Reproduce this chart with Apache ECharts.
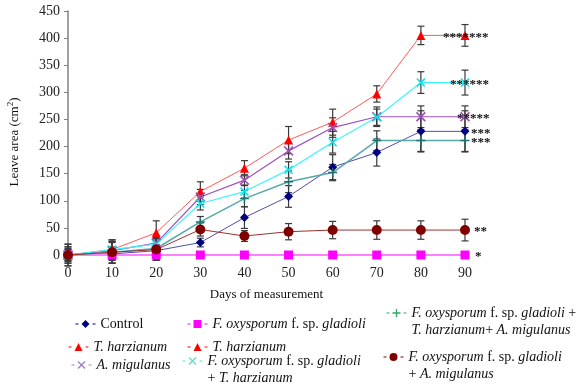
<!DOCTYPE html>
<html>
<head>
<meta charset="utf-8">
<script src="https://cdn.jsdelivr.net/npm/echarts@6/dist/echarts.min.js"></script>
<style>html,body{margin:0;padding:0;background:#fff;}#c{width:576px;height:387px;}</style>
</head>
<body>
<div id="c"></div>
<script>
// ---- data ----
const days = [0, 10, 20, 30, 40, 50, 60, 70, 80, 90];
const yTicks = [0, 50, 100, 150, 200, 250, 300, 350, 400, 450];
const seriesNames = [
  'Control',
  'F. oxysporum f. sp. gladioli',
  'T. harzianum',
  'A. migulanus',
  'F. oxysporum f. sp. gladioli + T. harzianum',
  'F. oxysporum f. sp. gladioli + T. harzianum+ A. migulanus',
  'F. oxysporum f. sp. gladioli + A. migulanus'
];
const control      = [0, 2, 8, 23, 69, 108, 162, 189, 228, 228];
const foxy         = [0, 0, 0, 0, 0, 0, 0, 0, 0, 0];
const tharz        = [0, 10, 41, 117, 160, 212, 245, 297, 405, 405];
const amig         = [0, 8, 22, 107, 138, 192, 235, 255, 255, 255];
const foxTharz     = [0, 10, 20, 95, 117, 157, 208, 254, 318, 318];
const foxTharzAmig = [0, 5, 12, 61, 104, 135, 152, 211, 211, 211];
const foxAmig      = [0, 5, 10, 47, 35, 43, 46, 46, 46, 46];

const errControl      = [10, 12, 8, 8, 20, 20, 23, 25, 38, 38];
const errFoxy         = [15, 15, 10, 0, 0, 0, 0, 0, 0, 0];
const errTharz        = [20, 18, 22, 18, 14, 25, 24, 15, 17, 20];
const errAmig         = [12, 15, 12, 14, 10, 15, 18, 18, 20, 20];
const errFoxTharz     = [15, 18, 10, 12, 12, 15, 20, 15, 20, 23];
const errFoxTharzAmig = [20, 20, 20, 10, 15, 20, 15, 18, 20, 20];
const errFoxAmig      = [10, 20, 20, 12, 10, 15, 16, 17, 17, 20];

const stars = ['***', '*', '*******', '*****', '******', '***', '**'];

// ---- styling ----
const values = [control, foxy, tharz, amig, foxTharz, foxTharzAmig, foxAmig];
const errs = [errControl, errFoxy, errTharz, errAmig, errFoxTharz, errFoxTharzAmig, errFoxAmig];
const X_PATH = 'path://M0,1.2 L1.2,0 L5,3.8 L8.8,0 L10,1.2 L6.2,5 L10,8.8 L8.8,10 L5,6.2 L1.2,10 L0,8.8 L3.8,5 Z';
const PLUS_PATH = 'path://M4.2,0 H5.8 V4.2 H10 V5.8 H5.8 V10 H4.2 V5.8 H0 V4.2 H4.2 Z';
const styles = [
  {symbol: 'diamond', size: 9, mColor: '#000080', lColor: '#5050a8', lw: 1, starX: 6},
  {symbol: 'rect', size: 9, mColor: '#ff00ff', lColor: '#ff80ff', lw: 2, starX: 10},
  {symbol: 'triangle', size: 9, mColor: '#ff0000', lColor: '#ff5a5a', lw: 1, starX: -22},
  {symbol: X_PATH, size: 10, mColor: '#a050b0', lColor: '#a050c0', lw: 1.2, starX: -8},
  {symbol: X_PATH, size: 9, mColor: '#00e8f0', lColor: '#40f4ff', lw: 1.2, starX: -15},
  {symbol: PLUS_PATH, size: 9, mColor: '#207070', lColor: '#58a8a8', lw: 1.5, starX: 6},
  {symbol: 'circle', size: 10, mColor: '#800000', lColor: '#a03030', lw: 1, starX: 9}
];
const legendColors = ['#000080', '#ff00ff', '#ff0000', '#a080c8', '#60e0c8', '#30a860', '#800000'];
const SERIF = '"Liberation Serif", "Times New Roman", serif';

const lineSeries = values.map((vals, s) => ({
  name: seriesNames[s],
  type: 'line',
  clip: false,
  z: 3,
  symbol: styles[s].symbol,
  symbolSize: styles[s].size,
  itemStyle: {color: styles[s].mColor},
  lineStyle: {color: styles[s].lColor, width: styles[s].lw},
  emphasis: {disabled: true},
  data: vals.map((v, i) => i === vals.length - 1 ? {
    value: [days[i], v],
    label: {
      show: true, position: 'inside', align: 'left', verticalAlign: 'middle',
      offset: [styles[s].starX, 2], formatter: stars[s],
      color: '#111', fontFamily: SERIF, fontSize: 13, fontWeight: 'bold'
    }
  } : [days[i], v])
}));

const errData = [];
values.forEach((vals, s) => {
  vals.forEach((v, i) => {
    if (errs[s][i] > 0) errData.push([days[i], v - errs[s][i], v + errs[s][i]]);
  });
});
const errSeries = {
  type: 'custom',
  name: 'err',
  z: 2,
  silent: true,
  encode: {x: 0, y: [1, 2]},
  data: errData,
  renderItem: function (params, api) {
    const x = api.value(0);
    const lo = api.coord([x, api.value(1)]);
    const hi = api.coord([x, api.value(2)]);
    const w = 3.5;
    const st = {stroke: '#3a3a3a', lineWidth: 1.2};
    return {
      type: 'group',
      children: [
        {type: 'line', shape: {x1: lo[0], y1: lo[1], x2: hi[0], y2: hi[1]}, style: st},
        {type: 'line', shape: {x1: lo[0] - w, y1: lo[1], x2: lo[0] + w, y2: lo[1]}, style: st},
        {type: 'line', shape: {x1: hi[0] - w, y1: hi[1], x2: hi[0] + w, y2: hi[1]}, style: st}
      ]
    };
  }
};

function fmt(name) {
  let t = name;
  if (name === seriesNames[4]) t = 'F. oxysporum f. sp. gladioli\n+ T. harzianum';
  if (name === seriesNames[5]) t = 'F. oxysporum f. sp. gladioli +\nT. harzianum+ A. migulanus';
  if (name === seriesNames[6]) t = 'F. oxysporum f. sp. gladioli\n+ A. migulanus';
  return t.replace('F. oxysporum', '{i|F. oxysporum}')
          .replace('gladioli', '{i|gladioli}')
          .replace('T. harzianum', '{i|T. harzianum}')
          .replace('A. migulanus', '{i|A. migulanus}')
          .split('\n').map(l => l.replace(/(^|\})([^{]+)(?=\{|$)/g, (m, a, b) => a + '{n|' + b + '}')).join('\n');
}
function legendAt(s, left, centerY, twoLines) {
  const boxH = twoLines ? 51 : 17;
  return {
    show: true,
    left: left,
    top: centerY - boxH / 2,
    data: [seriesNames[s]],
    selectedMode: false,
    itemWidth: 20,
    itemHeight: 10,
    itemGap: 0,
    lineStyle: {type: [3, 14], width: 1, color: legendColors[s]},
    itemStyle: {color: legendColors[s]},
    formatter: fmt,
    textStyle: {
      color: '#111', fontFamily: SERIF, fontSize: 14, lineHeight: 17,
      padding: twoLines ? [17, 0, 0, 0] : 0,
      rich: {
        i: {fontFamily: SERIF, fontSize: 14, fontStyle: 'italic', lineHeight: 17, color: '#111'},
        n: {fontFamily: SERIF, fontSize: 14, lineHeight: 17, color: '#111'}
      }
    }
  };
}

const chart = echarts.init(document.getElementById('c'), null, {renderer: 'canvas'});
chart.setOption({
  backgroundColor: '#ffffff',
  animation: false,
  grid: {left: 68, right: 111, top: 11, bottom: 132, containLabel: false, outerBoundsMode: 'none'},
  legend: [
    legendAt(0, 70, 319, false),
    legendAt(1, 182, 319, false),
    legendAt(5, 381, 308, true),
    legendAt(2, 63, 342, false),
    legendAt(2, 182, 342, false),
    legendAt(3, 66, 360, false),
    legendAt(4, 177, 356, true),
    legendAt(6, 378, 352, true)
  ],
  xAxis: {
    type: 'value', min: 0, max: 90, interval: 10,
    name: 'Days of measurement', nameLocation: 'middle', nameGap: 33,
    nameTextStyle: {fontFamily: SERIF, fontSize: 13, color: '#111'},
    axisLine: {show: false}, axisTick: {show: false}, splitLine: {show: false},
    axisLabel: {fontFamily: SERIF, fontSize: 14, color: '#222', margin: 11}
  },
  yAxis: {
    type: 'value', min: yTicks[0], max: yTicks[yTicks.length - 1], interval: 50,
    name: 'Leave area (cm{s|2})', nameLocation: 'middle', nameGap: 45,
    nameTextStyle: {
      fontFamily: SERIF, fontSize: 13, color: '#111', padding: [0, 18, 0, 0],
      rich: {s: {fontFamily: SERIF, fontSize: 9, color: '#111', padding: [0, 0, 8, 0]}}
    },
    axisLine: {show: true, lineStyle: {color: '#808080', width: 1.5}},
    axisTick: {show: true, inside: false, length: 4, lineStyle: {color: '#808080'}},
    splitLine: {show: false},
    axisLabel: {fontFamily: SERIF, fontSize: 14, color: '#222', margin: 8,
      formatter: v => yTicks.includes(v) ? String(v) : ''}
  },
  series: [errSeries].concat(lineSeries)
});
</script>
</body>
</html>
